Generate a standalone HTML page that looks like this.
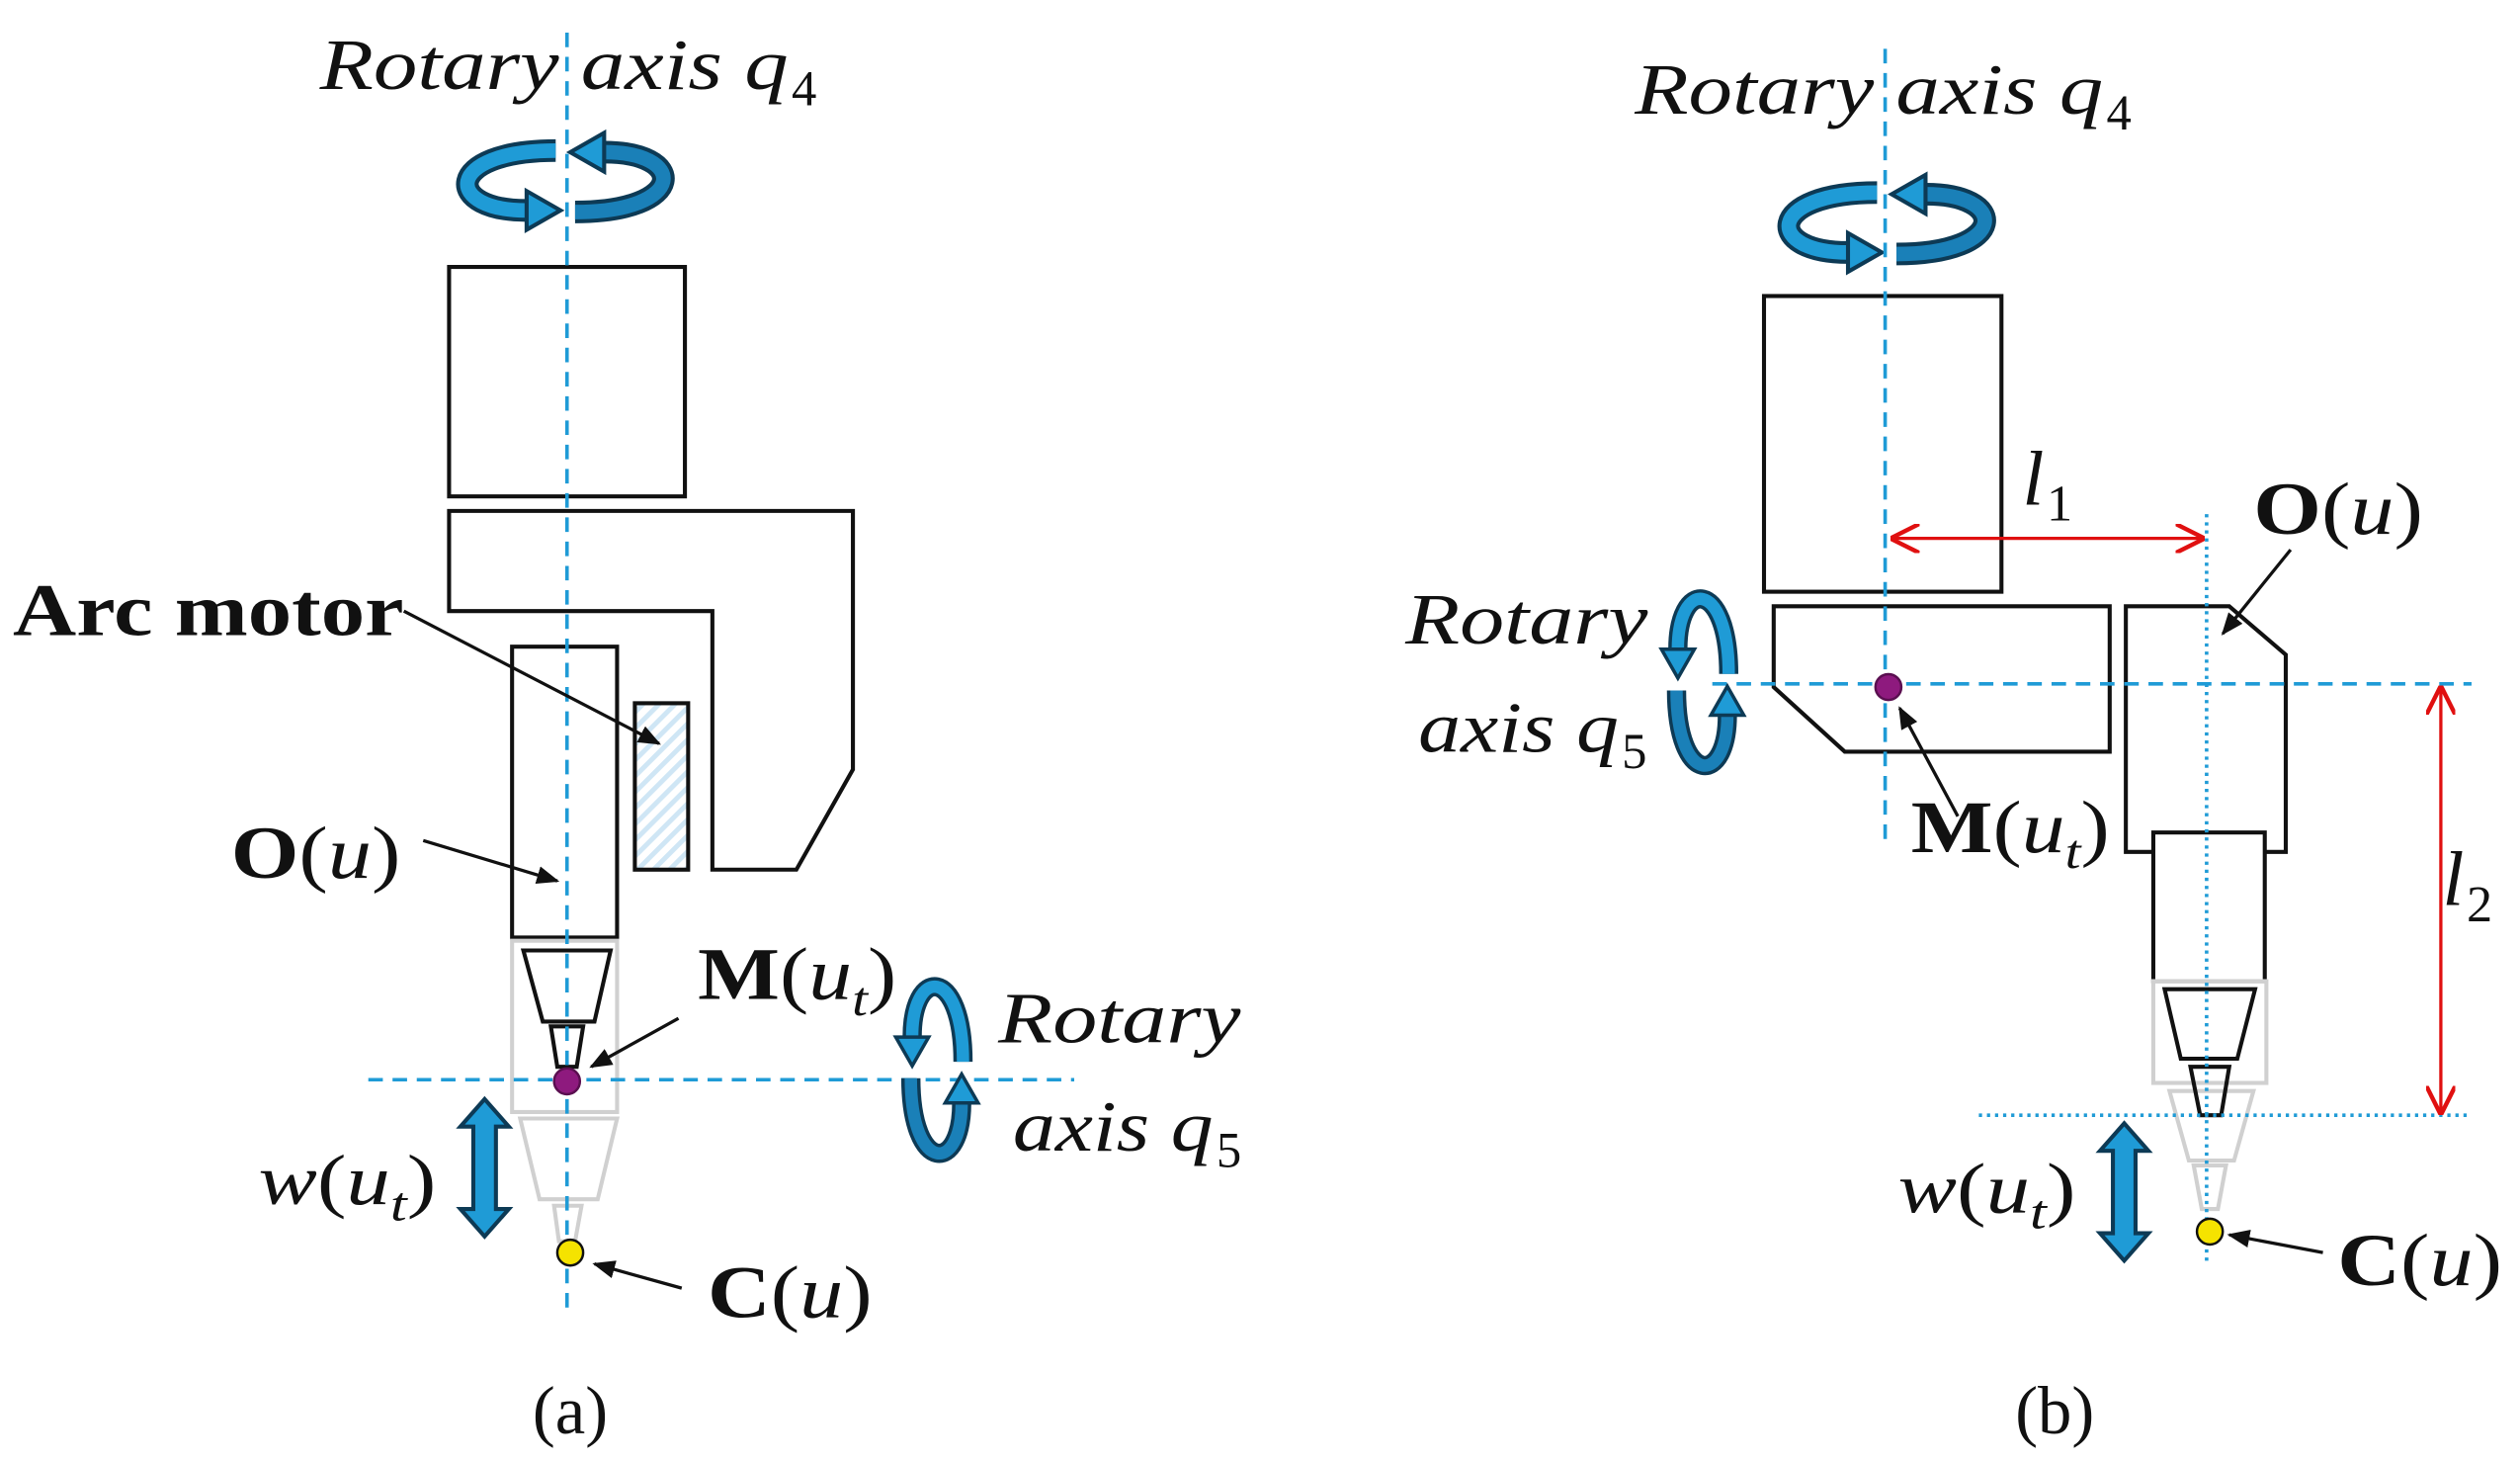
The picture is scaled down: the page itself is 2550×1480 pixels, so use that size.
<!DOCTYPE html>
<html><head><meta charset="utf-8"><style>
html,body{margin:0;padding:0;background:#fff;}
svg{display:block;}
text{font-family:"Liberation Serif",serif;fill:#111;}
.it{font-style:italic;}
.bd{font-weight:bold;}
</style></head><body>
<svg width="2550" height="1480" viewBox="0 0 1560 905" xmlns="http://www.w3.org/2000/svg">
<defs>
<g id="rot">
  <path d="M -6,-19 C -76,-19 -76,19 -22,18" fill="none" stroke="#0d3a55" stroke-width="14"/>
  <path d="M -6,-19 C -76,-19 -76,19 -22,18" fill="none" stroke="#1f9bd6" stroke-width="9"/>
  <polygon points="-24,6 -3,18 -24,30" fill="#1f9bd6" stroke="#0d3a55" stroke-width="2.5"/>
  <path d="M 6,19 C 76,19 76,-19 22,-18" fill="none" stroke="#0d3a55" stroke-width="14"/>
  <path d="M 6,19 C 76,19 76,-19 22,-18" fill="none" stroke="#1a80b8" stroke-width="9"/>
  <polygon points="24,-30 3,-18 24,-6" fill="#1f9bd6" stroke="#0d3a55" stroke-width="2.5"/>
</g>
<g id="dbl">
  <polygon points="0,0 15,17 7,17 7,68 15,68 0,85 -15,68 -7,68 -7,17 -15,17" fill="#1f9bd6" stroke="#0d3a55" stroke-width="2.5"/>
</g>
<pattern id="hatch" width="7" height="7" patternUnits="userSpaceOnUse" patternTransform="rotate(45)">
  <rect width="7" height="7" fill="#fff"/><rect width="3" height="7" fill="#cfe6f5"/>
</pattern>
<marker id="ah" viewBox="0 0 10 10" refX="9" refY="5" markerWidth="7" markerHeight="7" orient="auto-start-reverse"><path d="M0,1 L10,5 L0,9 z" fill="#111"/></marker>
<marker id="rh" viewBox="0 0 10 10" refX="9" refY="5" markerWidth="9" markerHeight="9" orient="auto-start-reverse"><path d="M0,0 L10,5 L0,10" fill="none" stroke="#e01010" stroke-width="1.5"/></marker>
</defs>

<!-- ===== (a) ===== -->
<text class="it" x="198" y="55" font-size="45" textLength="290" lengthAdjust="spacingAndGlyphs">Rotary axis q</text>
<text x="490" y="65" font-size="31">4</text>
<use href="#rot" x="350" y="112"/>
<g fill="none" stroke="#111" stroke-width="2.5">
  <rect x="278" y="165" width="146" height="142"/>
  <polygon points="278,316 528,316 528,476 493,538 441,538 441,378 278,378"/>
  <rect x="317" y="400" width="65" height="180"/>
</g>
<rect x="393" y="435" width="33" height="103" fill="url(#hatch)" stroke="#111" stroke-width="2.5"/>
<g fill="none" stroke="#d0d0d0" stroke-width="2.5">
  <rect x="317" y="582" width="65" height="106"/>
  <polygon points="322,692 382,692 370,742 334,742"/>
  <polygon points="343,746 360,746 356,768 346,768"/>
</g>
<g fill="none" stroke="#111" stroke-width="2.5">
  <polygon points="324,588 378,588 368,632 336,632"/>
  <polygon points="341,635 361,635 357,660 345,660"/>
</g>
<line x1="351" y1="20" x2="351" y2="815" stroke="#1f9bd6" stroke-width="2.2" stroke-dasharray="9,6"/>
<line x1="228" y1="668" x2="665" y2="668" stroke="#1f9bd6" stroke-width="2.2" stroke-dasharray="9,6"/>
<circle cx="351" cy="669" r="8" fill="#8e1a7e" stroke="#5a0f50" stroke-width="1.5"/>
<circle cx="353" cy="775" r="8" fill="#f5e300" stroke="#111" stroke-width="1.5"/>
<text class="bd" x="8" y="393" font-size="46" textLength="242" lengthAdjust="spacingAndGlyphs">Arc motor</text>
<line x1="250" y1="378" x2="408" y2="460" stroke="#111" stroke-width="2" marker-end="url(#ah)"/>
<text x="143" y="543" font-size="46" textLength="105" lengthAdjust="spacingAndGlyphs"><tspan class="bd">O</tspan>(<tspan class="it">u</tspan>)</text>
<line x1="262" y1="520" x2="345" y2="545" stroke="#111" stroke-width="2" marker-end="url(#ah)"/>
<text x="432" y="618" font-size="46" textLength="123" lengthAdjust="spacingAndGlyphs"><tspan class="bd">M</tspan>(<tspan class="it">u</tspan><tspan class="it" font-size="30" dy="10">t</tspan><tspan dy="-10">)</tspan></text>
<line x1="420" y1="630" x2="366" y2="660" stroke="#111" stroke-width="2" marker-end="url(#ah)"/>
<text x="438" y="815" font-size="46" textLength="102" lengthAdjust="spacingAndGlyphs"><tspan class="bd">C</tspan>(<tspan class="it">u</tspan>)</text>
<line x1="422" y1="797" x2="368" y2="782" stroke="#111" stroke-width="2" marker-end="url(#ah)"/>
<text x="160" y="745" font-size="44" textLength="110" lengthAdjust="spacingAndGlyphs"><tspan class="it">w</tspan>(<tspan class="it">u</tspan><tspan class="it" font-size="30" dy="10">t</tspan><tspan dy="-10">)</tspan></text>
<use href="#dbl" x="300" y="680"/>
<g transform="translate(580,662) rotate(90) scale(0.85)"><use href="#rot"/></g>
<text class="it" x="618" y="645" font-size="45" textLength="150" lengthAdjust="spacingAndGlyphs">Rotary</text>
<text class="it" x="627" y="712" font-size="45" textLength="124" lengthAdjust="spacingAndGlyphs">axis q</text>
<text x="753" y="722" font-size="31">5</text>
<text x="353" y="887" font-size="42" text-anchor="middle">(a)</text>

<!-- ===== (b) ===== -->
<text class="it" x="1012" y="70" font-size="45" textLength="290" lengthAdjust="spacingAndGlyphs">Rotary axis q</text>
<text x="1304" y="80" font-size="31">4</text>
<use href="#rot" x="1168" y="138"/>
<g fill="none" stroke="#111" stroke-width="2.5">
  <rect x="1092" y="183" width="147" height="183"/>
  <polygon points="1098,375 1306,375 1306,465 1142,465 1098,425"/>
  <polygon points="1316,375 1380,375 1415,405 1415,527 1316,527"/>
</g>
<rect x="1333" y="515" width="69" height="92" fill="#fff" stroke="#111" stroke-width="2.5"/>
<g fill="none" stroke="#d0d0d0" stroke-width="2.5">
  <rect x="1333" y="607" width="70" height="63"/>
  <polygon points="1343,675 1395,675 1383,718 1355,718"/>
  <polygon points="1358,721 1378,721 1373,748 1363,748"/>
</g>
<g fill="none" stroke="#111" stroke-width="2.5">
  <polygon points="1340,612 1396,612 1385,655 1350,655"/>
  <polygon points="1356,660 1380,660 1375,690 1362,690"/>
</g>
<line x1="1167" y1="30" x2="1167" y2="522" stroke="#1f9bd6" stroke-width="2.2" stroke-dasharray="9,6"/>
<line x1="1060" y1="423" x2="1530" y2="423" stroke="#1f9bd6" stroke-width="2.2" stroke-dasharray="9,6"/>
<line x1="1366" y1="318" x2="1366" y2="780" stroke="#1f9bd6" stroke-width="2.2" stroke-dasharray="2,3"/>
<line x1="1225" y1="690" x2="1530" y2="690" stroke="#1f9bd6" stroke-width="2.2" stroke-dasharray="2,3"/>
<line x1="1172" y1="333" x2="1363" y2="333" stroke="#e01010" stroke-width="2" marker-start="url(#rh)" marker-end="url(#rh)"/>
<line x1="1511" y1="426" x2="1511" y2="688" stroke="#e01010" stroke-width="2" marker-start="url(#rh)" marker-end="url(#rh)"/>
<text class="it" x="1252" y="312" font-size="48">l</text>
<text x="1267" y="322" font-size="32">1</text>
<text class="it" x="1512" y="560" font-size="48">l</text>
<text x="1527" y="570" font-size="32">2</text>
<circle cx="1169" cy="425" r="8" fill="#8e1a7e" stroke="#5a0f50" stroke-width="1.5"/>
<circle cx="1368" cy="762" r="8" fill="#f5e300" stroke="#111" stroke-width="1.5"/>
<text x="1395" y="330" font-size="46" textLength="105" lengthAdjust="spacingAndGlyphs"><tspan class="bd">O</tspan>(<tspan class="it">u</tspan>)</text>
<line x1="1418" y1="340" x2="1376" y2="392" stroke="#111" stroke-width="2" marker-end="url(#ah)"/>
<text x="1183" y="527" font-size="46" textLength="123" lengthAdjust="spacingAndGlyphs"><tspan class="bd">M</tspan>(<tspan class="it">u</tspan><tspan class="it" font-size="30" dy="10">t</tspan><tspan dy="-10">)</tspan></text>
<line x1="1212" y1="505" x2="1176" y2="438" stroke="#111" stroke-width="2" marker-end="url(#ah)"/>
<text x="1447" y="795" font-size="46" textLength="102" lengthAdjust="spacingAndGlyphs"><tspan class="bd">C</tspan>(<tspan class="it">u</tspan>)</text>
<line x1="1438" y1="775" x2="1380" y2="764" stroke="#111" stroke-width="2" marker-end="url(#ah)"/>
<text x="1175" y="750" font-size="44" textLength="110" lengthAdjust="spacingAndGlyphs"><tspan class="it">w</tspan>(<tspan class="it">u</tspan><tspan class="it" font-size="30" dy="10">t</tspan><tspan dy="-10">)</tspan></text>
<use href="#dbl" x="1315" y="695"/>
<g transform="translate(1054,422) rotate(90) scale(0.85)"><use href="#rot"/></g>
<text class="it" x="870" y="398" font-size="45" textLength="150" lengthAdjust="spacingAndGlyphs">Rotary</text>
<text class="it" x="878" y="465" font-size="45" textLength="124" lengthAdjust="spacingAndGlyphs">axis q</text>
<text x="1004" y="475" font-size="31">5</text>
<text x="1272" y="887" font-size="42" text-anchor="middle">(b)</text>
</svg>
</body></html>
